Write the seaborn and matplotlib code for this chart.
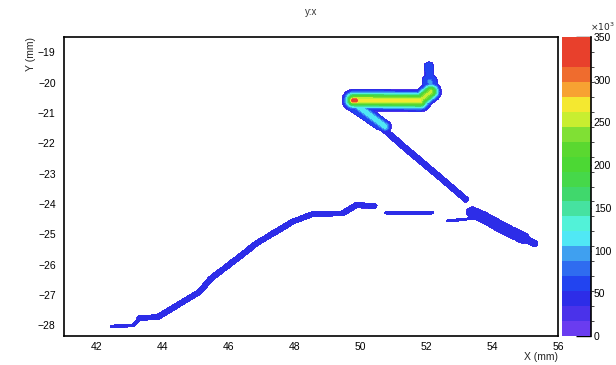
import numpy as np
import matplotlib
matplotlib.use("Agg")
import matplotlib.pyplot as plt
import seaborn as sns
from matplotlib.colors import ListedColormap, BoundaryNorm
from matplotlib.ticker import MultipleLocator

sns.set_style("white")
plt.rcParams['font.family'] = ['Liberation Sans', 'DejaVu Sans']

# ---------------- data ----------------
title = "y:x"
x_label = "X (mm)"
y_label = "Y (mm)"
z_levels = np.linspace(0, 350, 21)          # 20 contour bands, units of 10^3
z_ticks = [0, 50, 100, 150, 200, 250, 300, 350]
x_ticks = [42, 44, 46, 48, 50, 52, 54, 56]
y_ticks = [-19, -20, -21, -22, -23, -24, -25, -26, -27, -28]

# track centre lines (x, y)
arc_start_x = [42.45, 43.10, 43.30]
arc_start_y = [-28.03, -28.00, -27.78]
arc_x = [43.30, 43.86, 45.12, 45.47, 46.33, 46.84, 47.95, 48.55, 49.46, 49.87, 50.42]
arc_y = [-27.76, -27.72, -26.89, -26.45, -25.74, -25.30, -24.58, -24.33, -24.31, -24.04, -24.06]
seg2_x = [50.78, 52.19]
seg2_y = [-24.29, -24.29]
seg3_x = [52.65, 53.40]
seg3_y = [-24.56, -24.48]
diag_up_x = [50.40, 51.30, 52.50, 53.20]
diag_up_y = [-21.25, -22.10, -23.20, -23.85]
diag_low_x = [53.40, 53.70, 54.50, 54.95]
diag_low_y = [-24.28, -24.42, -24.89, -25.12]
diag_tip_x = [54.95, 55.28]
diag_tip_y = [-25.12, -25.30]

# hot region
halo_x = [49.80, 50.30, 51.85, 52.15]
halo_y = [-20.60, -20.55, -20.58, -20.30]
tail_halo_x = [49.80, 50.60]
tail_halo_y = [-20.75, -21.35]
tail_x = [49.95, 50.75]
tail_y = [-20.80, -21.45]
arm_x = [49.80, 50.30, 51.80]
arm_y = [-20.58, -20.58, -20.60]
arm2_x = [51.80, 52.14]
arm2_y = [-20.60, -20.30]
peak_x = [49.78, 49.86]
peak_y = [-20.59, -20.59]
spike_low_x = [52.14, 52.10]
spike_low_y = [-20.20, -19.95]
spike_up_x = [52.10, 52.08]
spike_up_y = [-19.95, -19.45]
spike_core_x = [52.14, 52.11]
spike_core_y = [-20.25, -19.95]

# (x, y, amplitude, half width, profile sharpness)
tracks = [
    (arc_start_x, arc_start_y, 45.0, 0.05, 8),
    (arc_x, arc_y, 45.0, 0.095, 8),
    (seg2_x, seg2_y, 45.0, 0.05, 8),
    (seg3_x, seg3_y, 45.0, 0.045, 8),
    (diag_up_x, diag_up_y, 45.0, 0.10, 8),
    (diag_low_x, diag_low_y, 45.0, 0.20, 8),
    (diag_tip_x, diag_tip_y, 45.0, 0.12, 8),
    (halo_x, halo_y, 62.0, 0.31, 10),
    (tail_halo_x, tail_halo_y, 62.0, 0.22, 10),
    (spike_low_x, spike_low_y, 66.0, 0.24, 6),
    (spike_up_x, spike_up_y, 66.0, 0.14, 4),
    (spike_core_x, spike_core_y, 96.0, 0.11, 2),
    (tail_x, tail_y, 118.0, 0.16, 2),
    (arm_x, arm_y, 268.0, 0.24, 2),
    (arm2_x, arm2_y, 248.0, 0.22, 2),
    (peak_x, peak_y, 345.0, 0.13, 2),
]

palette_hex = ["#6a3cf0", "#4a32ea", "#2d2de8", "#2244f0", "#2f6cf0",
               "#3fa0f0", "#50e8f5", "#52f2d8", "#46e2a0", "#40d86c",
               "#46d84a", "#4cd834", "#5ad830", "#80e034", "#c8ee30",
               "#f4e830", "#f7a232", "#ef6c2e", "#e8402c", "#e8402c"]

# ---------------- build histogram-like field ----------------
xg = np.linspace(41.0, 56.0, 1200)
yg = np.linspace(-28.35, -18.5, 800)
X, Y = np.meshgrid(xg, yg)


def dist_polyline(xs, ys):
    d = np.full(X.shape, np.inf)
    for i in range(len(xs) - 1):
        x0, y0, x1, y1 = xs[i], ys[i], xs[i + 1], ys[i + 1]
        dx, dy = x1 - x0, y1 - y0
        L2 = dx * dx + dy * dy
        t = np.clip(((X - x0) * dx + (Y - y0) * dy) / L2, 0, 1)
        d = np.minimum(d, np.hypot(X - (x0 + t * dx), Y - (y0 + t * dy)))
    return d


Z = np.zeros_like(X)
for xs, ys, amp, hw, p in tracks:
    d = dist_polyline(xs, ys)
    Z = np.maximum(Z, amp * np.exp(-(d / hw) ** p))
Z[Z < 26] = np.nan

# ---------------- draw ----------------
cmap = ListedColormap(sns.color_palette(palette_hex))
norm = BoundaryNorm(z_levels, cmap.N)

fig = plt.figure(figsize=(6.16, 3.65), dpi=100)
ax = fig.add_axes([64 / 616, 1 - 336 / 365, 494 / 616, 299 / 365])
cax = fig.add_axes([562 / 616, 1 - 336 / 365, 29 / 616, 299 / 365])

cs = ax.contourf(X, Y, Z, levels=z_levels, cmap=cmap, norm=norm)
ax.set_xlim(41.0, 56.0)
ax.set_ylim(-28.35, -18.5)

ax.set_xticks(x_ticks)
ax.set_yticks(y_ticks)
ax.xaxis.set_minor_locator(MultipleLocator(0.5))
ax.yaxis.set_minor_locator(MultipleLocator(0.1))
ax.tick_params(axis='x', which='major', direction='in', length=6, width=1.0,
               labelsize=7.5, pad=4, colors='black')
ax.tick_params(axis='x', which='minor', direction='in', length=3, width=1.0)
ax.tick_params(axis='y', which='major', direction='in', length=11, width=1.0,
               labelsize=7.5, pad=6, colors='black')
ax.tick_params(axis='y', which='minor', direction='in', length=6, width=1.0)
for sp in ax.spines.values():
    sp.set_visible(True)
    sp.set_color('black')
    sp.set_linewidth(1.2)
ax.set_facecolor('white')

cb = fig.colorbar(cs, cax=cax, ticks=z_ticks)
cb.outline.set_visible(False)
cax.spines['right'].set_visible(True)
cax.spines['right'].set_color('black')
cax.spines['right'].set_linewidth(1.2)
cax.tick_params(axis='y', direction='in', length=10.5, width=1.0,
                labelsize=7.5, pad=2, colors='black')
cax.set_yticklabels([str(v) for v in z_ticks])

fig.text(602 / 616, 1 - 27 / 365, r"$\times10^{3}$", fontsize=6.5, ha='center', va='center')
fig.text(558 / 616, 1 - 357 / 365, x_label, fontsize=7.5, ha='right', va='center')
fig.text(31 / 616, 1 - 37 / 365, y_label, fontsize=7.5, ha='center', va='top', rotation=90)
fig.text(311 / 616, 1 - 12 / 365, title, fontsize=7, ha='center', va='center', color='#333333')

fig.savefig("out.png", dpi=100)
